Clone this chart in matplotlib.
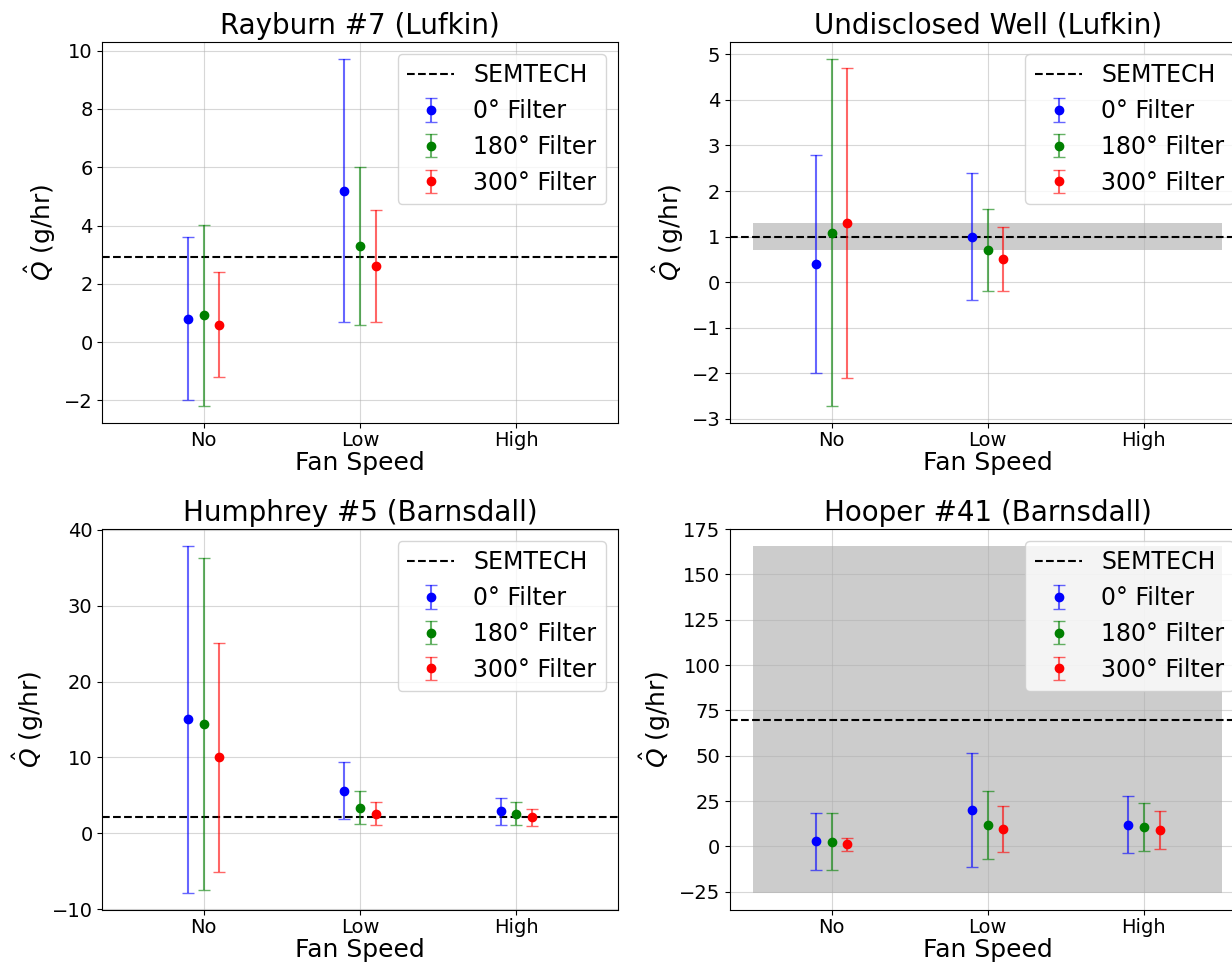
import matplotlib
matplotlib.use('Agg')
import matplotlib.pyplot as plt
import numpy as np

# 各井戸のデータ
fan_speed = ['No', 'Low', 'High']
filters = ['0° Filter', '180° Filter', '300° Filter']
colors = ['b', 'g', 'r']
offsets = [-0.1, 0.0, 0.1]

titles = ['Rayburn #7 (Lufkin)', 'Undisclosed Well (Lufkin)',
          'Humphrey #5 (Barnsdall)', 'Hooper #41 (Barnsdall)']

# Rayburn #7
rayburn_q = [[0.8, 5.2, np.nan], [0.92, 3.3, np.nan], [0.6, 2.62, np.nan]]
rayburn_err = [[2.8, 4.5, np.nan], [3.1, 2.7, np.nan], [1.8, 1.92, np.nan]]
# Undisclosed Well
undisclosed_q = [[0.4, 1.0, np.nan], [1.09, 0.7, np.nan], [1.3, 0.5, np.nan]]
undisclosed_err = [[2.4, 1.4, np.nan], [3.8, 0.9, np.nan], [3.4, 0.7, np.nan]]
# Humphrey #5
humphrey_q = [[15.0, 5.6, 2.9], [14.4, 3.4, 2.6], [10.0, 2.6, 2.1]]
humphrey_err = [[22.8, 3.75, 1.8], [21.9, 2.15, 1.5], [15.1, 1.5, 1.1]]
# Hooper #41
hooper_q = [[2.8, 20.2, 12.0], [2.6, 12.0, 10.9], [1.1, 9.8, 9.3]]
hooper_err = [[15.9, 31.6, 15.6], [15.6, 18.7, 13.3], [3.8, 12.6, 10.5]]

# SEMTECH の値と不確かさ
semtech = [2.93, 1.0, 2.1, 70.0]
semtech_unc = [None, 0.3, None, 95.5]

all_q = [rayburn_q, undisclosed_q, humphrey_q, hooper_q]
all_err = [rayburn_err, undisclosed_err, humphrey_err, hooper_err]

fig = plt.figure(figsize=(12.32, 9.64), dpi=100)
W, H = 1232, 964
ax_w, ax_h = 515.4 / W, 381 / H
lefts = [102.3 / W, 730 / W]
bottoms = [(H - 423) / H, (H - 910) / H]
axes = [fig.add_axes([lefts[i % 2], bottoms[i // 2], ax_w, ax_h]) for i in range(4)]

x = np.arange(len(fan_speed))
for k, ax in enumerate(axes):
    ax.axhline(semtech[k], color='k', ls='--', lw=1.5, label='SEMTECH')
    if semtech_unc[k] is not None:
        ax.fill_between([-0.5, 2.5], semtech[k] - semtech_unc[k],
                        semtech[k] + semtech_unc[k], color='gray', alpha=0.4, lw=0)
    for j in range(3):
        eb = ax.errorbar(x + offsets[j], all_q[k][j], yerr=all_err[k][j], fmt='o',
                         color=colors[j], ms=6, capsize=4, elinewidth=1.5,
                         label=filters[j])
        for c in eb[1]:
            c.set_alpha(0.6)
        for c in eb[2]:
            c.set_alpha(0.6)
    ax.set_xticks(x)
    ax.set_xticklabels(fan_speed)
    ax.set_xlim(-0.65, 2.65)
    ax.grid(True, alpha=0.5)
    ax.tick_params(labelsize=14)
    ax.tick_params(axis='x', pad=2)
    ax.set_title(titles[k], fontsize=20)
    ax.set_xlabel('Fan Speed', fontsize=18, labelpad=1)
    ax.set_ylabel(r'$\hat{Q}$ (g/hr)', fontsize=18)
    ax.legend(loc='upper right', fontsize=17)

plt.savefig('out.png', dpi=100)
